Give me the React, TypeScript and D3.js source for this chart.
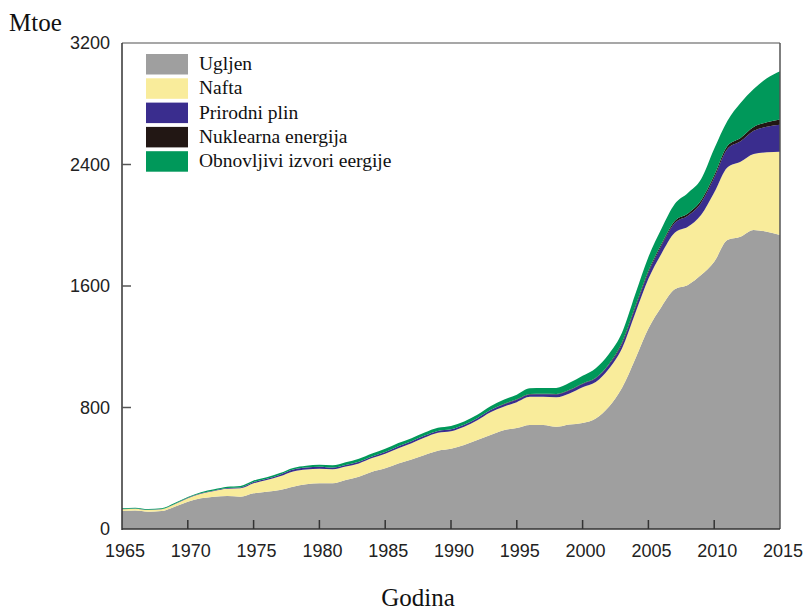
import * as d3 from 'd3';

// Godine (kategorije)
const years = d3.range(1965, 2016);

// Mtoe po izvoru, očitano sa slike
const coal = [
  118, 121, 114, 118, 147, 180, 202, 213, 217, 213,
  235, 246, 257, 279, 294, 301, 301, 323, 344, 377,
  400, 432, 457, 487, 515, 528, 553, 586, 619, 650,
  665, 685, 685, 673, 688, 698, 728, 805, 930, 1120,
  1320, 1464, 1578, 1607, 1672, 1760, 1903, 1925, 1969, 1957,
  1936,
];
const oil = [
  12, 13, 11, 12, 16, 22, 30, 37, 48, 55,
  66, 76, 90, 100, 98, 96, 92, 88, 88, 90,
  95, 100, 108, 115, 118, 115, 120, 130, 150, 155,
  170, 185, 185, 195, 205, 235, 240, 250, 260, 300,
  327, 350, 373, 383, 395, 455, 478, 493, 500, 523,
  548,
];
const gas = [
  1, 1, 1, 1, 2, 3, 3.5, 4, 5, 6,
  8, 9, 11, 12, 13, 13, 12, 11, 11, 11,
  12, 13, 13, 13, 13, 14, 14, 14, 14, 15,
  16, 16, 17, 18, 20, 22, 24, 26, 30, 35,
  42, 52, 63, 73, 80, 97, 121, 135, 153, 168,
  177,
];
const nuclear = [
  0, 0, 0, 0, 0, 0, 0, 0, 0, 0,
  0, 0, 0, 0, 0, 0, 0, 0, 0, 0,
  0, 0, 0, 0, 0, 0, 0, 0, 0, 3,
  3, 3, 3, 3, 3.4, 3.8, 4, 6, 10, 11,
  12, 12, 14, 15, 16, 17, 20, 22, 25, 30,
  35,
];
const renewables = [
  5, 5, 5, 5, 6, 6, 7, 7, 8, 9,
  10, 10, 10, 11, 12, 13, 14, 17, 19, 19,
  21, 21, 20, 20, 20, 21, 21, 22, 25, 28,
  30, 37, 38, 40, 46, 50, 63, 65, 64, 80,
  90, 100, 112, 135, 140, 175, 165, 230, 250, 290,
  318,
];

const seriesKeys = ['coal', 'oil', 'gas', 'nuclear', 'renewables'];
const seriesNames = ['Ugljen', 'Nafta', 'Prirodni plin', 'Nuklearna energija', 'Obnovljivi izvori eergije'];
const seriesColors = ['#9f9f9f', '#f9ec9b', '#3a2d8e', '#221714', '#00985a'];

const yTicks = [0, 800, 1600, 2400, 3200];
const xTicks = [1965, 1970, 1975, 1980, 1985, 1990, 1995, 2000, 2005, 2010, 2015];

export default function App() {
  const width = 804;
  const height = 610;
  const left = 122, right = 780, top = 43, bottom = 529;

  const x = d3.scaleLinear().domain([1965, 2015]).range([left, right]);
  const y = d3.scaleLinear().domain([0, 3200]).range([bottom, top]);

  const table = years.map((yr, i) => ({
    year: yr,
    coal: coal[i],
    oil: oil[i],
    gas: gas[i],
    nuclear: nuclear[i],
    renewables: renewables[i],
  }));

  const stacked = d3.stack<any>().keys(seriesKeys)(table);

  const area = d3
    .area<any>()
    .x((d) => x(d.data.year))
    .y0((d) => y(d[0]))
    .y1((d) => y(d[1]))
    .curve(d3.curveMonotoneX);

  const sans = '"Liberation Sans", Arial, sans-serif';
  const serif = '"Liberation Serif", "Times New Roman", serif';

  return (
    <svg
      width={width}
      height={height}
      style={{ position: 'absolute', left: 0, top: 0, background: '#fff' }}
    >
      {/* stacked areas */}
      {stacked.map((s, i) => (
        <path key={seriesKeys[i]} d={area(s) || ''} fill={seriesColors[i]} stroke="none" />
      ))}

      {/* frame */}
      <line x1={left} x2={right} y1={top} y2={top} stroke="#8a8a8a" strokeWidth={1.5} />
      <line x1={right} x2={right} y1={top} y2={bottom} stroke="#555" strokeWidth={1.5} />
      <line x1={left} x2={left} y1={top} y2={bottom + 1} stroke="#333" strokeWidth={1.5} />
      <line x1={left} x2={right} y1={bottom} y2={bottom} stroke="#333" strokeWidth={1.5} />

      {/* y axis */}
      {yTicks.map((t) => (
        <g key={'y' + t}>
          {t > 0 && t < 3200 && (
            <line x1={left} x2={left + 9} y1={y(t)} y2={y(t)} stroke="#555" strokeWidth={1.5} />
          )}
          <text
            x={left - 12}
            y={y(t)}
            dy="0.36em"
            textAnchor="end"
            fontFamily={sans}
            fontSize={18}
            fill="#222"
          >
            {t}
          </text>
        </g>
      ))}

      {/* x axis */}
      {xTicks.map((t) => (
        <g key={'x' + t}>
          {t > 1965 && t < 2015 && (
            <line x1={x(t)} x2={x(t)} y1={bottom} y2={bottom - 9} stroke="#333" strokeWidth={1.5} />
          )}
          <text
            x={x(t) + 3}
            y={557}
            textAnchor="middle"
            fontFamily={sans}
            fontSize={18}
            fill="#222"
          >
            {t}
          </text>
        </g>
      ))}

      {/* axis titles */}
      <text x={9} y={31} fontFamily={serif} fontSize={25} fill="#111">
        Mtoe
      </text>
      <text x={418} y={606} textAnchor="middle" fontFamily={serif} fontSize={25} fill="#111">
        Godina
      </text>

      {/* legend */}
      {seriesNames.map((name, i) => {
        const ly = 54 + i * 24.3;
        return (
          <g key={name}>
            <rect x={146} y={ly} width={42} height={20.5} fill={seriesColors[i]} />
            <text x={199} y={ly + 16} fontFamily={serif} fontSize={19.5} fill="#111">
              {name}
            </text>
          </g>
        );
      })}
    </svg>
  );
}
